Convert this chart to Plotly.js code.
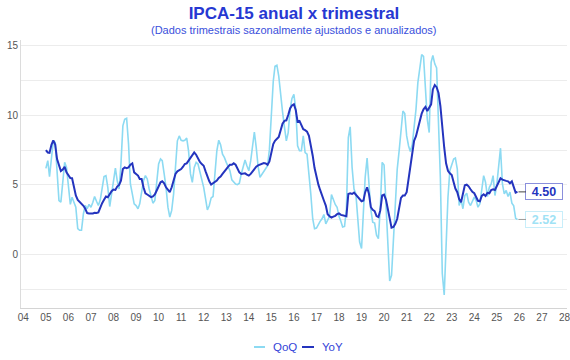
<!DOCTYPE html>
<html>
<head>
<meta charset="utf-8">
<script src="https://cdn.plot.ly/plotly-3.0.1.min.js"></script>
<style>html,body{margin:0;padding:0;background:#fff;}#chart{width:570px;height:360px;}</style>
</head>
<body>
<div id="chart"></div>
<script>
// Monthly series, starting January 2005
const startYear = 2005;
const seriesNames = ['QoQ', 'YoY'];

const qoq = [
  6.19,6.74,5.6,6.98,8.17,8.05,5.79,3.88,3.76,5.3,
  6.62,6.26,4.83,3.6,4.12,3.76,3.4,1.86,1.74,1.74,
  2.93,3.52,3.29,3.6,3.4,3.76,4.17,3.83,3.52,3.93,
  4.71,5.6,5.67,4.83,3.45,4.36,5.55,6.21,5.31,4.71,
  6.5,9.24,9.71,9.79,7.93,5.07,4.36,3.64,3.52,3.29,
  3.64,4.36,5.31,5.67,5.43,4.71,4.12,3.69,3.88,5.07,
  6.5,6.86,6.74,5.79,4.83,3.4,2.69,3.17,4.36,6.26,
  8.17,8.52,8.21,8.17,8.21,8.36,7.45,5.79,5.19,6.26,
  6.62,6.5,6.0,
  5.5,4.83,4.0,3.21,3.52,4.07,4.17,5.55,7.45,8.21,
  7.88,7.21,6.98,6.62,6.31,6.02,5.36,5.19,5.07,5.02,
  5.12,5.79,6.31,6.79,6.38,6.02,6.74,7.9,8.8,7.7,
  6.31,5.55,5.74,6.02,6.19,6.38,7.57,10.31,12.45,13.52,
  13.6,12.81,11.26,
  10.26,9.17,8.17,8.76,10.43,11.21,11.5,10.43,7.81,7.45,
  7.45,8.52,7.33,7.21,5.9,4.36,2.57,1.86,1.9,2.21,
  2.38,2.57,2.88,2.21,2.45,2.74,4.31,3.93,3.6,3.4,
  2.74,2.38,1.98,2.02,3.29,8.4,9.17,6.26,4.71,4.36,
  2.57,0.9,
  0.43,2.93,5.55,6.93,5.31,3.21,2.33,2.26,1.38,1.14,
  3.4,6.62,6.43,3.29,0.55,-1.9,-1.5,1.26,4.12,6.14,
  7.45,8.93,10.31,10.12,8.52,7.8,7.4,7.88,9.07,10.43,
  12.33,13.29,14.36,14.24,11.98,9.71,8.76,13.8,14.3,13.7,
  13.4,10.0,
  5.5,-1.36,-2.9,0.55,4.12,6.02,6.5,6.86,6.93,6.14,
  3.52,3.93,3.29,4.24,4.4,3.76,3.52,3.83,4.12,3.88,
  3.4,3.64,4.55,5.67,5.19,4.17,4.83,5.07,5.67,4.24,
  5.07,6.26,7.64,5.07,4.36,4.6,4.17,4.48,3.69,3.5,
  2.6,2.52
];

const yoy = [
  7.5,7.33,7.3,7.88,8.2,7.9,6.86,6.4,6.0,6.1,
  6.3,5.9,5.67,5.5,5.48,4.83,4.24,3.93,3.8,3.7,
  3.5,3.29,2.98,2.95,2.93,2.95,3.0,2.98,3.02,3.4,
  3.69,3.93,4.17,4.12,4.36,4.55,4.67,4.64,4.88,5.0,
  5.31,6.14,6.26,6.21,6.26,6.45,6.55,5.9,5.79,5.67,
  5.43,5.43,4.83,4.4,4.31,4.24,4.12,4.17,4.31,4.6,
  4.88,5.19,5.26,5.12,4.83,4.6,4.48,4.83,5.31,5.79,
  5.98,6.07,6.14,6.31,6.5,6.55,6.74,6.93,7.1,7.33,
  7.17,6.86,6.65,
  6.5,6.38,5.98,5.6,5.26,5.02,5.12,5.26,5.31,5.5,
  5.6,5.79,5.93,6.14,6.31,6.45,6.45,6.55,6.45,6.14,
  5.9,5.79,5.79,5.83,5.74,5.67,5.79,5.98,6.14,6.31,
  6.4,6.45,6.5,6.57,6.55,6.45,6.69,7.33,7.93,8.17,
  8.29,8.45,8.93,
  9.4,9.6,9.64,10.02,10.5,10.71,10.79,10.36,9.55,9.6,
  9.24,9.0,8.93,8.83,8.52,7.88,7.1,6.21,5.5,5.02,
  4.64,4.31,3.88,3.52,2.9,2.75,2.65,2.72,2.78,2.9,
  2.95,2.85,2.8,2.78,2.75,4.35,4.4,4.35,4.45,4.3,
  4.15,3.95,
  3.83,3.88,4.48,4.83,4.36,3.4,3.21,3.12,2.76,2.69,
  3.17,4.24,4.31,3.93,3.29,2.4,1.93,1.98,2.21,2.57,
  3.29,4.07,4.24,4.24,4.48,5.43,6.62,7.57,8.17,8.5,
  9.0,9.67,10.12,10.43,10.6,10.31,10.6,10.79,11.86,12.17,
  12.02,11.6,
  10.67,9.07,7.69,6.55,6.02,5.83,5.71,5.19,4.74,4.48,
  3.98,3.76,4.45,4.98,5.02,4.9,4.69,4.5,4.4,4.1,
  3.86,3.83,4.21,4.33,4.21,4.43,4.4,4.64,4.69,4.64,
  4.93,5.21,5.48,5.38,5.36,5.29,5.26,5.12,5.26,4.83,
  4.45,4.5
];

const dates = qoq.map((_, i) => {
  const y = startYear + Math.floor(i / 12);
  const m = (i % 12) + 1;
  return y + '-' + (m < 10 ? '0' + m : m) + '-01';
});

const cQoQ = 'rgb(140,218,242)';
const cYoY = 'rgb(36,52,190)';
const FONT = 'Liberation Sans, Arial, Helvetica, sans-serif';

// geometry helpers for layout-only items (legend / subtitle)
const M = {l: 21, r: 3, t: 40, b: 52};
const W = 570, H = 360;
const pw = W - M.l - M.r, ph = H - M.t - M.b;
const px = x => (x - M.l) / pw;
const py = y => (H - M.b - y) / ph;

const traces = [
  {x: dates, y: qoq, name: seriesNames[0], type: 'scatter', mode: 'lines',
   line: {color: cQoQ, width: 1.6}, hoverinfo: 'skip'},
  {x: dates, y: yoy, name: seriesNames[1], type: 'scatter', mode: 'lines',
   line: {color: cYoY, width: 2}, hoverinfo: 'skip'}
];

const lastDate = dates[dates.length - 1];
const lastQ = qoq[qoq.length - 1];
const lastY = yoy[yoy.length - 1];

const layout = {
  width: W, height: H,
  margin: M,
  paper_bgcolor: '#fff', plot_bgcolor: '#fff',
  font: {family: FONT, color: '#555', size: 10},
  showlegend: false,
  title: {
    text: '<b>IPCA-15 anual x trimestral</b>',
    font: {family: FONT, size: 17, color: '#2638d2'},
    xref: 'paper', x: 0.5, xanchor: 'center', y: 1 - 13 / H, yanchor: 'middle', yref: 'container'
  },
  xaxis: {
    type: 'date',
    range: ['2003-11-25', '2028-02-11'],
    tick0: '2004-01-01', dtick: 'M12', tickformat: '%y',
    showgrid: false, zeroline: false,
    showline: true, linecolor: '#d4d4d4', linewidth: 1,
    ticks: '', ticklabeloverflow: 'allow', tickfont: {size: 10, color: '#555'}
  },
  yaxis: {
    range: [-3.84, 15.41],
    tick0: 0, dtick: 5,
    showgrid: true, gridcolor: '#ececec', gridwidth: 1,
    minor: {dtick: 2.5, showgrid: true, gridcolor: '#ececec', gridwidth: 1, ticks: ''},
    zeroline: false,
    showline: true, linecolor: '#dcdcdc', linewidth: 1,
    ticks: '', tickfont: {size: 10, color: '#555'}
  },
  annotations: [
    {xref: 'paper', yref: 'paper', x: 0.5, y: py(30),
     xanchor: 'center', yanchor: 'middle', showarrow: false,
     text: '(Dados trimestrais sazonalmente ajustados e anualizados)',
     font: {family: FONT, size: 11, color: '#3a50dc'}},
    {x: lastDate, y: lastY, xref: 'x', yref: 'y', text: '<b>' + lastY.toFixed(2) + '</b>',
     showarrow: true, arrowhead: 0, arrowwidth: 1, arrowcolor: '#444', ax: 27, ay: 0, standoff: 1,
     font: {family: FONT, size: 12.5, color: cYoY},
     bgcolor: '#fff', bordercolor: '#8a8fdc', borderwidth: 1, borderpad: 1, width: 34, height: 13},
    {x: lastDate, y: lastQ, xref: 'x', yref: 'y', text: '<b>' + lastQ.toFixed(2) + '</b>',
     showarrow: true, arrowhead: 0, arrowwidth: 1, arrowcolor: '#9a9a9a', ax: 27, ay: 0, standoff: 1,
     font: {family: FONT, size: 12.5, color: 'rgb(160,226,245)'},
     bgcolor: '#fff', bordercolor: 'rgb(200,238,250)', borderwidth: 1, borderpad: 1, width: 34, height: 13},
    {xref: 'paper', yref: 'paper', x: px(271), y: py(347), xanchor: 'left', yanchor: 'middle',
     showarrow: false, text: seriesNames[0], font: {family: FONT, size: 11.5, color: '#3344d8'}},
    {xref: 'paper', yref: 'paper', x: px(320), y: py(347), xanchor: 'left', yanchor: 'middle',
     showarrow: false, text: seriesNames[1], font: {family: FONT, size: 11.5, color: '#3344d8'}}
  ],
  shapes: [
    {type: 'line', xref: 'paper', yref: 'paper', x0: px(254), x1: px(265), y0: py(347), y1: py(347),
     line: {color: cQoQ, width: 2}},
    {type: 'line', xref: 'paper', yref: 'paper', x0: px(302), x1: px(314), y0: py(347), y1: py(347),
     line: {color: cYoY, width: 2}}
  ]
};

Plotly.newPlot('chart', traces, layout, {staticPlot: true, displayModeBar: false});
</script>
</body>
</html>
